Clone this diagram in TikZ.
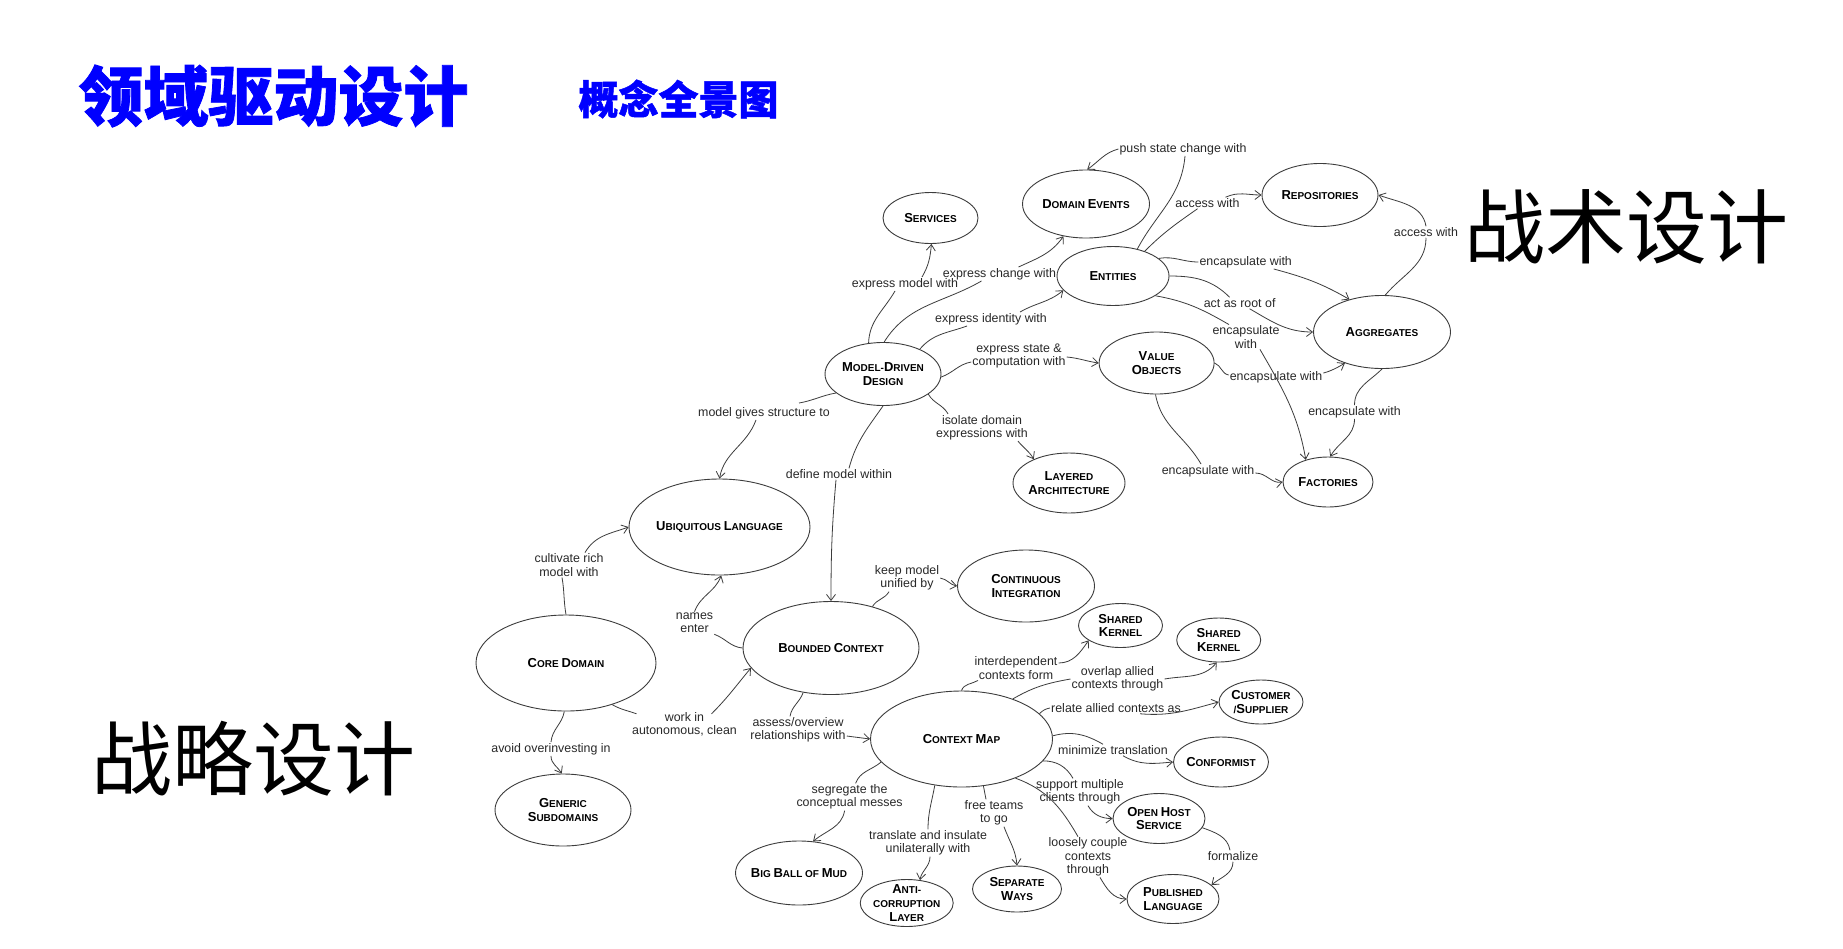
\documentclass[tikz,border=0pt]{standalone}
\usepackage{fontspec}
\setmainfont{Liberation Sans}
\newfontfamily\cjk{Noto Sans CJK SC}
\newfontfamily\cjkheavy{Noto Sans CJK SC}[BoldFeatures={FakeBold=1.2}]
\usetikzlibrary{shapes.geometric,arrows.meta}
\definecolor{titleblue}{RGB}{0,0,255}
\definecolor{inkline}{RGB}{60,60,60}
\definecolor{inktext}{RGB}{40,40,40}
\newcommand\nfont{\fontsize{10}{13.6}\selectfont\bfseries}
\newcommand\bc[1]{{\fontsize{13}{13.6}\selectfont #1}}
\newcommand\lfont{\fontsize{12.4}{13.4}\selectfont}
\begin{document}
\begin{tikzpicture}[x=1pt,y=1pt,
  con/.style={ellipse,draw=inkline,line width=0.9pt,inner sep=-2pt,font=\nfont,align=center,text=black},
  lbl/.style={inner sep=1pt,font=\lfont,align=center,text=inktext},
  ln/.style={draw=inkline,line width=0.8pt},
  arr/.style={ln,-{Straight Barb[length=6pt,width=9pt]}},
  bigtitle/.style={inner sep=0pt,text=titleblue},
  sidetitle/.style={inner sep=0pt,text=black}
]
\useasboundingbox[fill=white] (0,0) rectangle (1843,-948);

% titles
\node[bigtitle,font={\cjkheavy\bfseries\fontsize{65}{70}\selectfont}] (t1) at (273.5,-96) {领域驱动设计};
\node[bigtitle,font={\cjkheavy\bfseries\fontsize{40}{44}\selectfont}] (t2) at (678.5,-99) {概念全景图};
\node[sidetitle,font={\cjk\fontsize{81}{86}\selectfont}] (t3) at (1626,-226.5) {战术设计};
\node[sidetitle,font={\cjk\fontsize{81}{86}\selectfont}] (t4) at (253,-759) {战略设计};

% concept nodes
\node[con,minimum width=95pt,minimum height=51pt] (svc) at (930.5,-218) {\bc{S}ERVICES};
\node[con,minimum width=127pt,minimum height=68pt] (de) at (1086,-204) {\bc{D}OMAIN \bc{E}VENTS};
\node[con,minimum width=112pt,minimum height=59pt] (ent) at (1113,-276) {\bc{E}NTITIES};
\node[con,minimum width=116pt,minimum height=63pt] (rep) at (1320,-195) {\bc{R}EPOSITORIES};
\node[con,minimum width=137pt,minimum height=73pt] (agg) at (1382,-332) {\bc{A}GGREGATES};
\node[con,minimum width=115pt,minimum height=62pt] (vo) at (1156.6,-363) {\bc{V}ALUE\\\bc{O}BJECTS};
\node[con,minimum width=116pt,minimum height=63pt] (mdd) at (883,-374) {\bc{M}ODEL-\bc{D}RIVEN\\\bc{D}ESIGN};
\node[con,minimum width=90pt,minimum height=50pt] (fac) at (1328,-482) {\bc{F}ACTORIES};
\node[con,minimum width=112pt,minimum height=60pt] (la) at (1069,-483) {\bc{L}AYERED\\\bc{A}RCHITECTURE};
\node[con,minimum width=181pt,minimum height=96pt] (ul) at (719.5,-527) {\bc{U}BIQUITOUS \bc{L}ANGUAGE};
\node[con,minimum width=137pt,minimum height=72pt] (ci) at (1026,-586) {\bc{C}ONTINUOUS\\\bc{I}NTEGRATION};
\node[con,minimum width=176pt,minimum height=93pt] (bc) at (831,-648) {\bc{B}OUNDED \bc{C}ONTEXT};
\node[con,minimum width=180pt,minimum height=96pt] (cd) at (566,-663) {\bc{C}ORE \bc{D}OMAIN};
\node[con,minimum width=136pt,minimum height=72pt] (gs) at (563,-810) {\bc{G}ENERIC\\\bc{S}UBDOMAINS};
\node[con,minimum width=182pt,minimum height=96pt] (cm) at (961.5,-739) {\bc{C}ONTEXT \bc{M}AP};
\node[con,minimum width=84pt,minimum height=44pt] (sk1) at (1120.5,-625.5) {\bc{S}HARED\\\bc{K}ERNEL};
\node[con,minimum width=84pt,minimum height=44pt] (sk2) at (1218.7,-640) {\bc{S}HARED\\\bc{K}ERNEL};
\node[con,minimum width=84pt,minimum height=44pt] (cs) at (1261,-702) {\bc{C}USTOMER\\/\bc{S}UPPLIER};
\node[con,minimum width=95pt,minimum height=50pt] (conf) at (1221,-762) {\bc{C}ONFORMIST};
\node[con,minimum width=92pt,minimum height=50pt] (ohs) at (1159,-818.5) {\bc{O}PEN \bc{H}OST\\\bc{S}ERVICE};
\node[con,minimum width=92pt,minimum height=49pt] (pl) at (1173,-899) {\bc{P}UBLISHED\\\bc{L}ANGUAGE};
\node[con,minimum width=89pt,minimum height=46pt] (sw) at (1017,-889) {\bc{S}EPARATE\\\bc{W}AYS};
\node[con,inner sep=-5pt,minimum width=93pt,minimum height=47pt] (acl) at (906.7,-903) {\bc{A}NTI-\\CORRUPTION\\\bc{L}AYER};
\node[con,inner sep=-5pt,minimum width=127pt,minimum height=64pt] (bbm) at (799,-873) {\bc{B}IG \bc{B}ALL OF \bc{M}UD};

% labels
\node[lbl] (lpush) at (1183,-149) {push state change with};
\node[lbl] (laccE) at (1207.5,-203) {access with};
\node[lbl] (lexch) at (999.5,-274) {express change with};
\node[lbl] (lexmod) at (905,-284) {express model with};
\node[lbl] (lexid) at (991,-319) {express identity with};
\node[lbl] (lencE) at (1245.7,-262) {encapsulate with};
\node[lbl] (lroot) at (1239.6,-303) {act as root of};
\node[lbl] (lencEF) at (1246,-337) {encapsulate\\with};
\node[lbl] (lstate) at (1019,-356) {express state \&\\computation with};
\node[lbl] (lencVA) at (1276,-377) {encapsulate with};
\node[lbl] (liso) at (982,-427.5) {isolate domain\\expressions with};
\node[lbl] (laccA) at (1426,-232) {access with};
\node[lbl] (lencAF) at (1354.5,-412) {encapsulate with};
\node[lbl] (lencVF) at (1208,-471) {encapsulate with};
\node[lbl] (lmgs) at (764,-413) {model gives structure to};
\node[lbl] (ldef) at (839,-474) {define model within};
\node[lbl] (lkeep) at (907,-578) {keep model\\unified by};
\node[lbl] (lnames) at (694.5,-623) {names\\enter};
\node[lbl] (lcult) at (569,-565) {cultivate rich\\model with};
\node[lbl] (lwork) at (684.5,-724) {work in\\autonomous, clean};
\node[lbl] (lavoid) at (551,-749) {avoid overinvesting in};
\node[lbl] (lassess) at (798,-730) {assess/overview\\relationships with};
\node[lbl] (lseg) at (849.6,-797) {segregate the\\conceptual messes};
\node[lbl] (linter) at (1016,-668) {interdependent\\contexts form};
\node[lbl] (loverlap) at (1117.5,-679) {overlap allied\\contexts through};
\node[lbl] (lrelate) at (1116,-708) {relate allied contexts as};
\node[lbl] (lmin) at (1113,-750) {minimize translation};
\node[lbl] (lsupp) at (1080,-792) {support multiple\\clients through};
\node[lbl] (lfree) at (994,-813) {free teams\\to go};
\node[lbl] (ltrans) at (928,-843) {translate and insulate\\unilaterally with};
\node[lbl] (lloose) at (1088,-857) {loosely couple\\contexts\\through};
\node[lbl] (lform) at (1233,-856) {formalize};

% connectors (tactical)
\draw[ln] (ent.48) to[out=62,in=-95] ([xshift=2pt]lpush.south);
\draw[arr] (lpush.west) to[out=195,in=35] (de.88);
\draw[ln] (mdd.115) to[out=88,in=-120] ([xshift=-10pt]lexmod.south);
\draw[arr] ([xshift=17pt]lexmod.north) to[out=60,in=-95] (svc.-88);
\draw[ln] (mdd.88) to[out=58,in=210] ([xshift=-18pt]lexch.south);
\draw[arr] ([xshift=19pt]lexch.north) to[out=25,in=235] (de.235);
\draw[ln] (mdd.34) to[out=50,in=200] ([xshift=-24pt]lexid.south);
\draw[arr] ([xshift=29pt]lexid.north) to[out=30,in=220] (ent.196);
\draw[ln] (mdd.-3) to[out=20,in=190] ([yshift=-6pt]lstate.west);
\draw[arr] ([yshift=-1pt]lstate.east) to[out=-5,in=172] (vo.180);
\draw[ln] (mdd.-24) to[out=-60,in=120] ([xshift=-34pt]liso.north);
\draw[arr] ([xshift=36pt]liso.south) to[out=-50,in=120] (la.146);
\draw[ln] (ent.38) to[out=45,in=215] ([xshift=-10pt]laccE.south);
\draw[arr] ([xshift=18pt]laccE.north) to[out=25,in=180] (rep.180);
\draw[ln] (ent.21) to[out=10,in=180] (lencE.west);
\draw[arr] ([xshift=28pt]lencE.south) to[out=-15,in=150] (agg.135);
\draw[ln] (ent.0) to[out=0,in=135] ([xshift=-10pt]lroot.north);
\draw[arr] ([xshift=10pt]lroot.south) to[out=-30,in=180] (agg.180);
\draw[ln] (ent.-25) to[out=-10,in=150] ([xshift=-17pt]lencEF.north);
\draw[arr] ([xshift=14pt]lencEF.south) to[out=-60,in=100] (fac.135);
\draw[ln] (vo.0) to[out=-20,in=170] ([yshift=2pt]lencVA.west);
\draw[arr] ([yshift=4pt]lencVA.east) to[out=15,in=210] (agg.220);
\draw[ln] (vo.-92) to[out=-80,in=120] ([xshift=-7pt]lencVF.north);
\draw[arr] ([yshift=-2pt]lencVF.east) to[out=0,in=190] (fac.180);
\draw[ln] (agg.85) to[out=50,in=-90] (laccA.south);
\draw[arr] (laccA.north) to[out=100,in=-20] (rep.0);
\draw[ln] (agg.-90) to[out=-135,in=90] (lencAF.north);
\draw[arr] (lencAF.south) to[out=-90,in=60] (fac.85);

% connectors (strategic)
\draw[ln] (mdd.202) to[out=190,in=10] ([xshift=35pt,yshift=3pt]lmgs.north);
\draw[arr] ([xshift=-8pt]lmgs.south) to[out=-110,in=80] (ul.90);
\draw[ln] (mdd.-90) to[out=-125,in=75] ([xshift=10pt]ldef.north);
\draw[arr] ([xshift=-3pt]ldef.south) to[out=-95,in=90] (bc.90);
\draw[ln] (bc.45) to[out=60,in=-120] ([xshift=-18pt]lkeep.south);
\draw[arr] (lkeep.east) to[out=-10,in=170] (ci.180);
\draw[ln] (bc.180) to[out=175,in=-20] (lnames.south east);
\draw[arr] (lnames.north) to[out=70,in=-110] (ul.-88);
\draw[ln] (cd.90) to[out=100,in=-80] ([xshift=-7pt]lcult.south);
\draw[arr] ([xshift=16pt]lcult.north) to[out=60,in=200] (ul.180);
\draw[ln] (cd.-42) to[out=-30,in=160] ([xshift=-48pt,yshift=-3pt]lwork.north);
\draw[arr] ([xshift=27pt,yshift=-3pt]lwork.north) to[out=45,in=230] (bc.194);
\draw[ln] (cd.-92) to[out=-100,in=85] (lavoid.north);
\draw[arr] (lavoid.south) to[out=-90,in=120] (gs.92);
\draw[ln] (bc.238) to[out=-110,in=80] ([xshift=-8pt]lassess.north);
\draw[arr] ([yshift=-6pt]lassess.east) -- (cm.180);
\draw[ln] (cm.196) to[out=220,in=70] ([xshift=6pt]lseg.north);
\draw[arr] ([xshift=-5pt]lseg.south) to[out=-100,in=40] (bbm.66);
\draw[ln] (cm.90) to[out=70,in=210] ([xshift=-38pt]linter.south);
\draw[arr] ([yshift=5pt]linter.east) to[out=0,in=235] (sk1.205);
\draw[ln] (cm.38) to[out=30,in=190] (loverlap.west);
\draw[arr] (loverlap.east) to[out=10,in=230] (sk2.-95);
\draw[ln] (cm.18) to[out=45,in=190] (lrelate.west);
\draw[arr] ([xshift=24pt]lrelate.south) to[out=-5,in=195] (cs.180);
\draw[ln] (cm.2) to[out=15,in=150] ([xshift=-10pt]lmin.north);
\draw[arr] ([xshift=10pt]lmin.south) to[out=-30,in=185] (conf.180);
\draw[ln] (cm.-15.5) to[out=0,in=120] ([xshift=-7pt]lsupp.north);
\draw[arr] ([xshift=8pt]lsupp.south) to[out=-60,in=180] (ohs.180);
\draw[ln] (cm.-36) to[out=-20,in=120] ([xshift=-10pt]lloose.north);
\draw[arr] ([xshift=12pt]lloose.south) to[out=-60,in=180] (pl.180);
\draw[ln] (cm.-65) -- ([xshift=-8pt]lfree.north);
\draw[arr] ([xshift=10pt]lfree.south) to[out=-70,in=95] (sw.90);
\draw[ln] (cm.240) to[out=-100,in=90] (ltrans.north);
\draw[arr] ([xshift=2pt]ltrans.south) to[out=-90,in=80] (acl.60);
\draw[ln] (ohs.-12) to[out=-20,in=100] ([xshift=-3pt]lform.north);
\draw[arr] (lform.south) to[out=-90,in=40] (pl.20);
\end{tikzpicture}
\end{document}
